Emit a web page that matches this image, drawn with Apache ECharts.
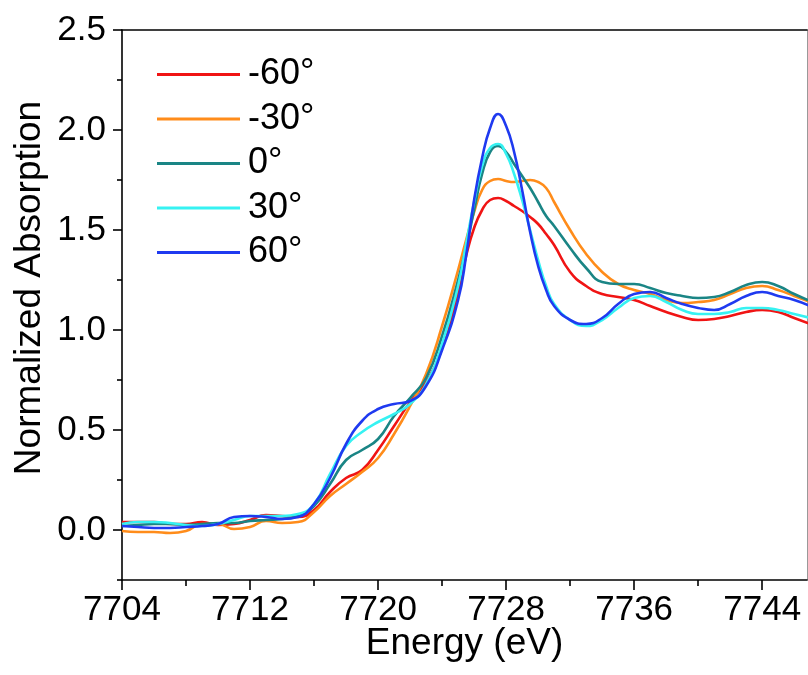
<!DOCTYPE html>
<html><head><meta charset="utf-8">
<script src="https://cdn.jsdelivr.net/npm/echarts@6/dist/echarts.min.js"></script>
<style>html,body{margin:0;padding:0;background:#fff}#c{width:808px;height:675px}</style>
</head><body><div id="c"></div>
<script>
const energy = [7704,7705,7706,7707,7708,7709,7710,7711,7712,7713,7714,7715,
  7716,7717,7718,7719,7720,7721,7722,7723,7724,7725,
  7725.5,7726,7726.5,7727,7727.5,7728,7728.5,7729,7729.5,7730,7730.5,7731,
  7732,7733,7734,7735,7736,7737,7738,7739,7740,7741,7742,7743,7744,7745,7746,7747];

const seriesNames = ['-60°', '-30°', '0°', '30°', '60°'];

const absM60 = [0.04,0.04,0.04,0.03,0.03,0.04,0.025,0.03,0.05,0.075,0.07,0.065,
  0.10,0.19,0.26,0.30,0.40,0.52,0.64,0.74,0.91,1.19,
  1.37,1.51,1.60,1.65,1.66,1.645,1.62,1.595,1.565,1.53,1.48,1.425,
  1.29,1.22,1.18,1.165,1.15,1.12,1.09,1.065,1.05,1.055,1.07,1.09,1.10,1.09,1.06,1.03];

const absM30 = [-0.005,-0.01,-0.01,-0.015,-0.005,0.03,0.03,0.005,0.015,0.045,0.035,0.04,
  0.09,0.17,0.23,0.29,0.36,0.48,0.62,0.78,1.02,1.30,
  1.45,1.59,1.70,1.745,1.755,1.745,1.74,1.745,1.75,1.74,1.71,1.64,
  1.50,1.38,1.29,1.23,1.20,1.18,1.15,1.135,1.14,1.15,1.18,1.21,1.22,1.20,1.17,1.14];

const abs0 = [0.02,0.025,0.03,0.03,0.025,0.03,0.035,0.035,0.045,0.05,0.055,0.07,
  0.12,0.23,0.35,0.40,0.455,0.57,0.66,0.76,0.97,1.25,
  1.41,1.60,1.78,1.89,1.92,1.89,1.83,1.77,1.71,1.64,1.57,1.52,
  1.41,1.31,1.24,1.23,1.23,1.21,1.185,1.17,1.16,1.165,1.19,1.225,1.24,1.22,1.18,1.145];

const abs30 = [0.03,0.04,0.04,0.035,0.025,0.02,0.03,0.05,0.07,0.07,0.07,0.08,
  0.13,0.28,0.42,0.49,0.54,0.58,0.63,0.73,0.93,1.22,
  1.43,1.64,1.82,1.91,1.93,1.88,1.78,1.65,1.50,1.35,1.22,1.13,
  1.05,1.02,1.05,1.11,1.16,1.17,1.14,1.10,1.08,1.08,1.09,1.11,1.11,1.10,1.08,1.06];

const abs60 = [0.02,0.015,0.01,0.01,0.015,0.02,0.03,0.065,0.07,0.065,0.055,0.065,
  0.13,0.26,0.43,0.545,0.605,0.63,0.645,0.72,0.90,1.15,
  1.37,1.65,1.86,2.01,2.08,2.02,1.89,1.70,1.49,1.32,1.20,1.12,
  1.05,1.03,1.06,1.13,1.18,1.19,1.16,1.13,1.11,1.10,1.13,1.17,1.19,1.17,1.15,1.12];

const xTicks = [7704, 7712, 7720, 7728, 7736, 7744];
const xMinorTicks = [7708, 7716, 7724, 7732, 7740];
const yTicks = [0, 0.5, 1.0, 1.5, 2.0, 2.5];
const yMinorTicks = [-0.25, 0.25, 0.75, 1.25, 1.75, 2.25];

const colors = ['#f01414', '#ff8c1a', '#1a8585', '#36f2f2', '#1f3af0'];
const allValues = [absM60, absM30, abs0, abs30, abs60];

const FONT = 'Liberation Sans, Arial, sans-serif';
const X_MIN = 7704, X_MAX = 7746.8, Y_MIN = -0.25, Y_MAX = 2.5;

const chart = echarts.init(document.getElementById('c'), null, {renderer: 'canvas'});

const series = seriesNames.map((name, i) => ({
  name: name,
  type: 'line',
  smooth: true,
  symbol: 'none',
  xAxisIndex: 0,
  yAxisIndex: 0,
  lineStyle: {color: colors[i], width: 2.6},
  itemStyle: {color: colors[i]},
  data: energy.map((e, k) => [e, allValues[i][k]])
}));

const axisLineBlack = {show: true, onZero: false, lineStyle: {color: '#000', width: 1.6}};

chart.setOption({
  animation: false,
  backgroundColor: '#fff',
  textStyle: {fontFamily: FONT},
  grid: {left: 122, right: 1, top: 30, bottom: 95},
  legend: {
    orient: 'vertical',
    left: 152,
    top: 51,
    itemWidth: 83,
    itemHeight: 3,
    itemGap: 7.5,
    icon: 'rect',
    data: seriesNames,
    textStyle: {fontFamily: FONT, fontSize: 36, color: '#000', lineHeight: 37, padding: [0, 0, 0, 3]}
  },
  xAxis: [
    {
      type: 'value', position: 'bottom', min: X_MIN, max: X_MAX,
      name: 'Energy (eV)', nameLocation: 'middle', nameGap: 45, nameMoveOverlap: false,
      nameTextStyle: {fontFamily: FONT, fontSize: 37, color: '#000', verticalAlign: 'top'},
      axisLine: axisLineBlack,
      axisTick: {show: true, inside: false, length: 10, customValues: xTicks, lineStyle: {color: '#000', width: 1.6}},
      axisLabel: {show: true, margin: 13, customValues: xTicks, fontFamily: FONT, fontSize: 35, color: '#000', formatter: v => String(v)},
      splitLine: {show: false}
    },
    {
      type: 'value', position: 'bottom', min: X_MIN, max: X_MAX,
      axisLine: {show: false, onZero: false},
      axisTick: {show: true, inside: false, length: 6, customValues: xMinorTicks, lineStyle: {color: '#000', width: 1.6}},
      axisLabel: {show: false},
      splitLine: {show: false}
    },
    {
      type: 'value', position: 'top', min: X_MIN, max: X_MAX,
      axisLine: axisLineBlack,
      axisTick: {show: false},
      axisLabel: {show: false},
      splitLine: {show: false}
    }
  ],
  yAxis: [
    {
      type: 'value', position: 'left', min: Y_MIN, max: Y_MAX,
      name: 'Normalized Absorption', nameLocation: 'middle', nameGap: 74, nameMoveOverlap: false,
      nameTextStyle: {fontFamily: FONT, fontSize: 37, color: '#000', padding: [0, 0, 0, 34]},
      axisLine: axisLineBlack,
      axisTick: {show: true, inside: false, length: 9, customValues: yTicks, lineStyle: {color: '#000', width: 1.6}},
      axisLabel: {show: true, margin: 16, customValues: yTicks, fontFamily: FONT, fontSize: 35, color: '#000', formatter: v => v.toFixed(1)},
      splitLine: {show: false}
    },
    {
      type: 'value', position: 'left', min: Y_MIN, max: Y_MAX,
      axisLine: {show: false, onZero: false},
      axisTick: {show: true, inside: false, length: 5, customValues: yMinorTicks, lineStyle: {color: '#000', width: 1.6}},
      axisLabel: {show: false},
      splitLine: {show: false}
    },
    {
      type: 'value', position: 'right', min: Y_MIN, max: Y_MAX,
      axisLine: {show: true, onZero: false, lineStyle: {color: '#999', width: 1}},
      axisTick: {show: false},
      axisLabel: {show: false},
      splitLine: {show: false}
    }
  ],
  series: series
});
</script>
</body></html>
